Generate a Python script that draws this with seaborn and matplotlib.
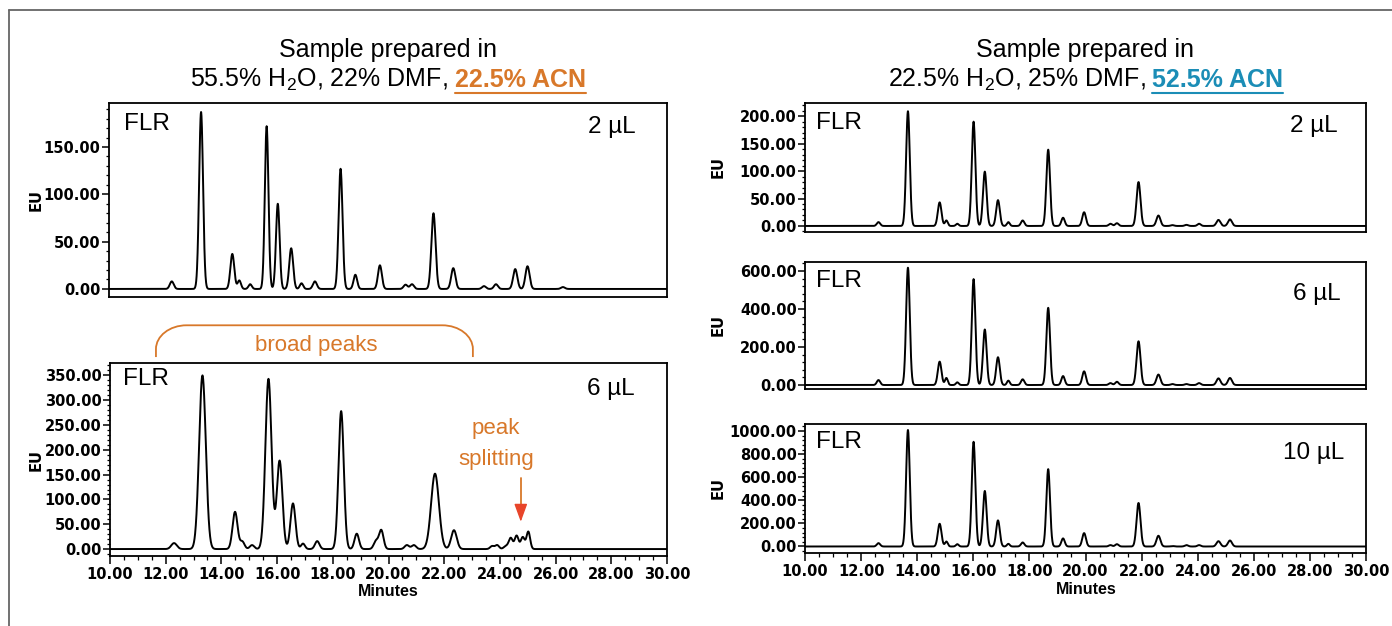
import numpy as np
import pandas as pd
import matplotlib
matplotlib.use("Agg")
import matplotlib.pyplot as plt
import seaborn as sns
from matplotlib.ticker import MultipleLocator
from matplotlib.path import Path
from matplotlib.patches import PathPatch
from matplotlib.lines import Line2D

# ---------------- peak tables (retention time [min], height [EU], sigma [min]) ----------------
# 55.5% H2O / 22% DMF / 22.5% ACN, 2 uL injection
rt_acn22_2ul = [12.25, 13.30, 14.42, 14.67, 15.06, 15.65, 16.05, 16.53, 16.90, 17.38, 18.30,
                18.83, 19.71, 20.63, 20.86, 21.63, 22.34, 23.44, 23.87, 24.56, 25.00, 26.27]
h_acn22_2ul = [8, 187, 37, 9, 5, 172, 90, 43, 6, 8, 127,
               15, 25, 4.5, 5, 80, 22, 3, 5, 21, 24, 2]
w_acn22_2ul = [0.07, 0.07, 0.07, 0.06, 0.06, 0.065, 0.065, 0.07, 0.06, 0.07, 0.07,
               0.065, 0.07, 0.07, 0.07, 0.075, 0.075, 0.07, 0.07, 0.075, 0.075, 0.07]

# 55.5% H2O / 22% DMF / 22.5% ACN, 6 uL injection
rt_acn22_6ul = [12.30, 13.32, 14.49, 14.75, 15.10, 15.69, 16.09, 16.57, 16.93, 17.44, 18.30,
                18.86, 19.55, 19.74, 20.66, 20.91, 21.67, 22.35, 23.72, 23.90,
                24.22, 24.39, 24.60, 24.82, 25.02]
h_acn22_6ul = [12, 350, 75, 15, 8, 343, 178, 92, 11, 16, 278,
               31, 16, 38, 8, 8, 152, 38, 6, 8,
               6, 22, 27, 24, 35]
w_acn22_6ul = [0.10, 0.12, 0.09, 0.08, 0.08, 0.11, 0.10, 0.09, 0.07, 0.08, 0.095,
               0.08, 0.08, 0.08, 0.08, 0.08, 0.14, 0.10, 0.07, 0.07,
               0.08, 0.07, 0.07, 0.07, 0.065]

# 22.5% H2O / 25% DMF / 52.5% ACN, 2, 6 and 10 uL injections
rt_acn52 = [12.62, 13.67, 14.80, 15.04, 15.43, 16.01, 16.41, 16.88, 17.25, 17.76, 18.67,
            19.20, 19.95, 20.89, 21.12, 21.89, 22.60, 23.10, 23.60, 24.05, 24.74, 25.15]
h_acn52_2ul = [7, 209, 43, 10, 4, 190, 99, 47, 7, 10, 139,
               15, 25, 4, 5, 80, 19, 1.5, 2, 4, 11, 12]
h_acn52_6ul = [26, 617, 123, 37, 14, 557, 292, 146, 23, 30, 406,
               47, 72, 10, 17, 230, 55, 5, 5, 10, 35, 37]
h_acn52_10ul = [29, 1009, 197, 43, 20, 907, 481, 226, 23, 35, 670,
                70, 116, 12, 20, 377, 93, 4, 12, 12, 46, 52]
w_acn52 = [0.06, 0.065, 0.065, 0.05, 0.05, 0.065, 0.065, 0.065, 0.05, 0.06, 0.065,
           0.06, 0.065, 0.06, 0.06, 0.07, 0.07, 0.06, 0.06, 0.06, 0.07, 0.07]

# ---------------- axis ticks ----------------
x_ticks = [10, 12, 14, 16, 18, 20, 22, 24, 26, 28, 30]
x_labels = ["10.00", "12.00", "14.00", "16.00", "18.00", "20.00", "22.00", "24.00", "26.00", "28.00", "30.00"]
y_ticks_acn22_2ul = [0, 50, 100, 150]
y_ticks_acn22_6ul = [0, 50, 100, 150, 200, 250, 300, 350]
y_ticks_acn52_2ul = [0, 50, 100, 150, 200]
y_ticks_acn52_6ul = [0, 200, 400, 600]
y_ticks_acn52_10ul = [0, 200, 400, 600, 800, 1000]

ORANGE = "#D8782A"
TEAL = "#1B8DB6"
RED = "#E8452A"

W, H = 1392, 626
sns.set_style("ticks")
plt.rcParams["font.family"] = ["Liberation Sans", "DejaVu Sans"]
plt.rcParams["mathtext.fontset"] = "custom"
plt.rcParams["mathtext.rm"] = "Liberation Sans"
plt.rcParams["mathtext.it"] = "Liberation Sans:italic"
plt.rcParams["mathtext.bf"] = "Liberation Sans:bold"
for key in ["text.color", "axes.labelcolor", "xtick.color", "ytick.color", "axes.edgecolor"]:
    plt.rcParams[key] = "black"

fig = plt.figure(figsize=(W / 100, H / 100), dpi=100)
fig.patch.set_facecolor("white")

minutes = np.linspace(10, 30, 4001)


def chromatogram(rt, h, w):
    signal = np.zeros_like(minutes)
    for r, a, s in zip(rt, h, w):
        signal += a * np.exp(-0.5 * ((minutes - r) / s) ** 2)
    return pd.DataFrame({"Minutes": minutes, "EU": signal})


def add_axes_px(x0, y0, x1, y1):
    return fig.add_axes([x0 / W, 1 - y1 / H, (x1 - x0) / W, (y1 - y0) / H])


TICK_FONT = dict(fontfamily="DejaVu Sans", fontweight="bold", fontsize=10.5)


def panel(box, df, ylim, yticks, ystep_minor, volume, flr_xy, vol_xy, show_x):
    ax = add_axes_px(*box)
    sns.lineplot(data=df, x="Minutes", y="EU", ax=ax, color="black", lw=1.4, estimator=None)
    ax.set_xlim(10, 30)
    ax.set_ylim(*ylim)
    ax.set_xlabel("")
    ax.set_ylabel("")
    ax.set_yticks(yticks)
    ax.set_yticklabels([f"{v:.2f}" for v in yticks], **TICK_FONT)
    ax.yaxis.set_minor_locator(MultipleLocator(ystep_minor))
    ax.tick_params(axis="y", which="major", direction="out", length=5, width=1.1, pad=1, colors="black")
    ax.tick_params(axis="y", which="minor", direction="out", length=2.5, width=0.9)
    if show_x:
        ax.set_xticks(x_ticks)
        ax.set_xticklabels(x_labels, **TICK_FONT)
        ax.xaxis.set_minor_locator(MultipleLocator(0.5))
        ax.tick_params(axis="x", which="major", direction="out", length=6, width=1.1, pad=2)
        ax.tick_params(axis="x", which="minor", direction="out", length=3, width=0.9)
    else:
        ax.set_xticks([])
        ax.tick_params(axis="x", which="both", bottom=False, labelbottom=False)
    for sp in ax.spines.values():
        sp.set_visible(True)
        sp.set_linewidth(1.3)
        sp.set_color("black")
    ax.text(flr_xy[0], flr_xy[1], "FLR", transform=ax.transAxes, fontsize=17.5,
            ha="left", va="baseline")
    ax.text(vol_xy[0], vol_xy[1], volume, transform=ax.transAxes, fontsize=17.5,
            ha="right", va="baseline")
    return ax


ax_l1 = panel((109, 103, 667, 297), chromatogram(rt_acn22_2ul, h_acn22_2ul, w_acn22_2ul),
              (-8.5, 196.5), y_ticks_acn22_2ul, 10, "2 µL", (0.027, 0.861), (0.944, 0.847), False)
ax_l2 = panel((110, 363, 667, 556), chromatogram(rt_acn22_6ul, h_acn22_6ul, w_acn22_6ul),
              (-14, 375), y_ticks_acn22_6ul, 10, "6 µL", (0.024, 0.885), (0.9425, 0.833), True)
ax_r1 = panel((805, 103, 1366, 232), chromatogram(rt_acn52, h_acn52_2ul, w_acn52),
              (-11, 224), y_ticks_acn52_2ul, 10, "2 µL", (0.02, 0.80), (0.95, 0.775), False)
ax_r2 = panel((805, 262, 1366, 389), chromatogram(rt_acn52, h_acn52_6ul, w_acn52),
              (-21, 647), y_ticks_acn52_6ul, 40, "6 µL", (0.02, 0.80), (0.955, 0.70), False)
ax_r3 = panel((805, 424, 1366, 552.5), chromatogram(rt_acn52, h_acn52_10ul, w_acn52),
              (-52, 1061), y_ticks_acn52_10ul, 40, "10 µL", (0.02, 0.81), (0.962, 0.725), True)

# axis titles
LBL = dict(fontfamily="DejaVu Sans", fontweight="bold", fontsize=10.5, rotation=90,
           ha="center", va="center")
for xp, yp in [(36, 200), (36, 460), (718, 167), (718, 325), (718, 488)]:
    fig.text(xp / W, 1 - yp / H, "EU", **LBL)
for xp, yp in [(388, 591), (1086, 589)]:
    fig.text(xp / W, 1 - yp / H, "Minutes", fontweight="bold", fontsize=11.5,
             ha="center", va="center")

# two-line headings with the highlighted solvent
renderer = fig.canvas.get_renderer()


def heading(cx, plain, strong, color):
    fig.text(cx / W, 1 - 57.3 / H, "Sample prepared in", fontsize=18, ha="center", va="baseline")
    t1 = fig.text(0, 1 - 87.3 / H, plain, fontsize=18, ha="left", va="baseline")
    t2 = fig.text(0, 1 - 87.3 / H, strong, fontsize=18, fontweight="bold", color=color,
                  ha="left", va="baseline")
    gap = 7
    w1 = t1.get_window_extent(renderer).width
    w2 = t2.get_window_extent(renderer).width
    x0 = cx - (w1 + gap + w2) / 2
    t1.set_x(x0 / W)
    t2.set_x((x0 + w1 + gap) / W)
    xs = x0 + w1 + gap
    fig.add_artist(Line2D([xs / W, (xs + w2) / W], [1 - 92.7 / H, 1 - 92.7 / H],
                          color=color, lw=1.5, transform=fig.transFigure))


heading(388, "55.5% H$_2$O, 22% DMF,", "22.5% ACN", ORANGE)
heading(1085.5, "22.5% H$_2$O, 25% DMF,", "52.5% ACN", TEAL)

# "broad peaks" bracket above the 6 uL trace
x0, x1, yb, yt = 11.65, 23.03, 387, 451
rx, ry = 1.1, 48
k = 0.5523
yc = yt - ry
verts = [(x0, yb), (x0, yc),
         (x0, yc + k * ry), (x0 + rx - k * rx, yt), (x0 + rx, yt),
         (x1 - rx, yt),
         (x1 - rx + k * rx, yt), (x1, yc + k * ry), (x1, yc),
         (x1, yb)]
codes = [Path.MOVETO, Path.LINETO,
         Path.CURVE4, Path.CURVE4, Path.CURVE4,
         Path.LINETO,
         Path.CURVE4, Path.CURVE4, Path.CURVE4,
         Path.LINETO]
ax_l2.add_patch(PathPatch(Path(verts, codes), facecolor="none", edgecolor=ORANGE,
                          lw=1.3, clip_on=False))
ax_l2.text(17.4, 400, "broad peaks", color=ORANGE, fontsize=16, ha="center", va="baseline",
           clip_on=False)

# peak splitting call-out
ax_l2.text(23.86, 232, "peak", color=ORANGE, fontsize=16, ha="center", va="baseline")
ax_l2.text(23.86, 170, "splitting", color=ORANGE, fontsize=16, ha="center", va="baseline")
ax_l2.add_line(Line2D([24.75, 24.75], [143, 80], color=ORANGE, lw=1.3))
ax_l2.annotate("", xy=(24.75, 55), xytext=(24.75, 84),
               arrowprops=dict(arrowstyle="-|>,head_length=11,head_width=4",
                               mutation_scale=1, color=RED, lw=1.0, shrinkA=0, shrinkB=0))

# outer frame
for xs_, ys_ in [([9, 9], [10, 626]), ([9, 1392], [10, 10])]:
    fig.add_artist(Line2D([v / W for v in xs_], [1 - v / H for v in ys_], color="#666666",
                          lw=1.3, transform=fig.transFigure))

fig.savefig("out.png", dpi=100)
